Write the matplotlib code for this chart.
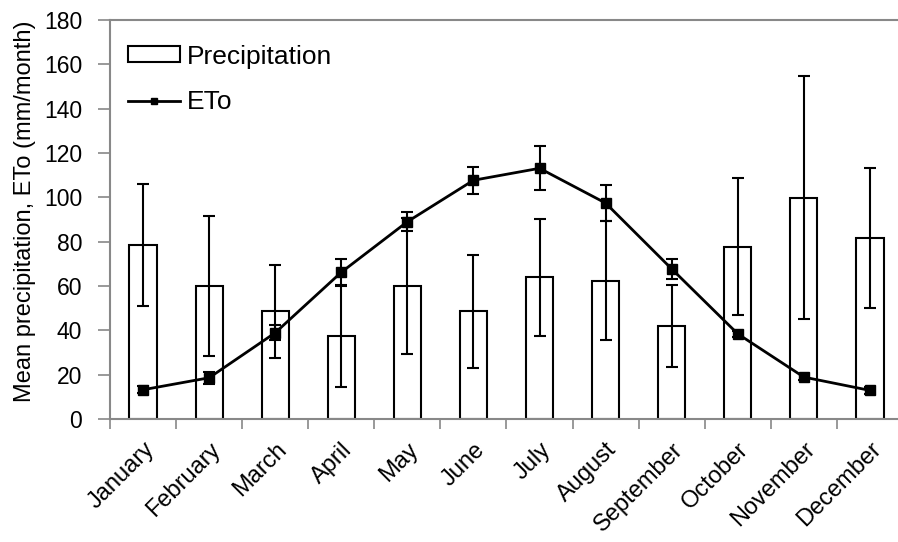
import numpy as np
import matplotlib.pyplot as plt
from matplotlib.lines import Line2D
from matplotlib.patches import Patch

months = ["January", "February", "March", "April", "May", "June", "July",
          "August", "September", "October", "November", "December"]
precip = [78.6, 60.0, 48.5, 37.5, 60.0, 48.6, 63.9, 62.4, 41.9, 77.7, 99.9, 81.6]
precip_sd = [27.5, 31.6, 21.0, 23.0, 30.6, 25.5, 26.3, 26.7, 18.4, 31.0, 55.0, 31.6]
eto = [13.2, 18.6, 38.9, 66.2, 89.0, 107.7, 113.1, 97.4, 67.7, 38.4, 18.9, 12.9]
eto_sd = [1.5, 2.6, 3.4, 6.0, 4.4, 6.1, 10.0, 8.2, 4.5, 1.5, 1.5, 1.5]

plt.rcParams['font.family'] = ['Liberation Sans', 'DejaVu Sans']

fig = plt.figure(figsize=(8.98, 5.42), dpi=100)
ax = fig.add_axes([110/898, 1 - 419/542, 793/898, 399/542])

x = np.arange(len(months))
ax.bar(x, precip, width=0.41, color='white', edgecolor='black', linewidth=1.5, zorder=2)
ax.errorbar(x, precip, yerr=precip_sd, fmt='none', ecolor='black', elinewidth=1.5,
            capsize=4.5, capthick=1.5, zorder=3)
ax.errorbar(x, eto, yerr=eto_sd, color='black', linewidth=2, marker='s', markersize=7,
            ecolor='black', elinewidth=1.5, capsize=4.5, capthick=1.5, zorder=4)

ax.set_xlim(-0.5, 11.5)
ax.set_ylim(0, 180)
ax.set_yticks(range(0, 181, 20))
ax.set_xticks(x)
ax.set_xticklabels(months, rotation=45, ha='right', rotation_mode='anchor', fontsize=17)
ax.set_xticks(np.arange(-0.5, 12, 1), minor=True)
ax.tick_params(axis='x', which='major', length=0, pad=14)
ax.tick_params(axis='x', which='minor', length=7, color='#888888', width=1.2, direction='out')
ax.tick_params(axis='y', length=9, color='#888888', width=1.2, labelsize=16.5, pad=11)

for s in ['left', 'bottom', 'top']:
    ax.spines[s].set_color('#888888')
    ax.spines[s].set_linewidth(1.5)
ax.spines['right'].set_visible(False)

ax.set_ylabel("Mean precipitation, ETo (mm/month)", fontsize=17, labelpad=6, y=0.52)

handles = [Patch(facecolor='white', edgecolor='black', linewidth=1.5),
           Line2D([], [], color='black', linewidth=2, marker='s', markersize=5)]
ax.legend(handles, ['Precipitation', 'ETo'], loc='upper left', frameon=False, fontsize=19,
          handlelength=2.0, handleheight=0.55, handletextpad=0.25, labelspacing=0.82,
          borderaxespad=0.0, bbox_to_anchor=(0.009, 0.965))

fig.savefig('out.png', dpi=100)
